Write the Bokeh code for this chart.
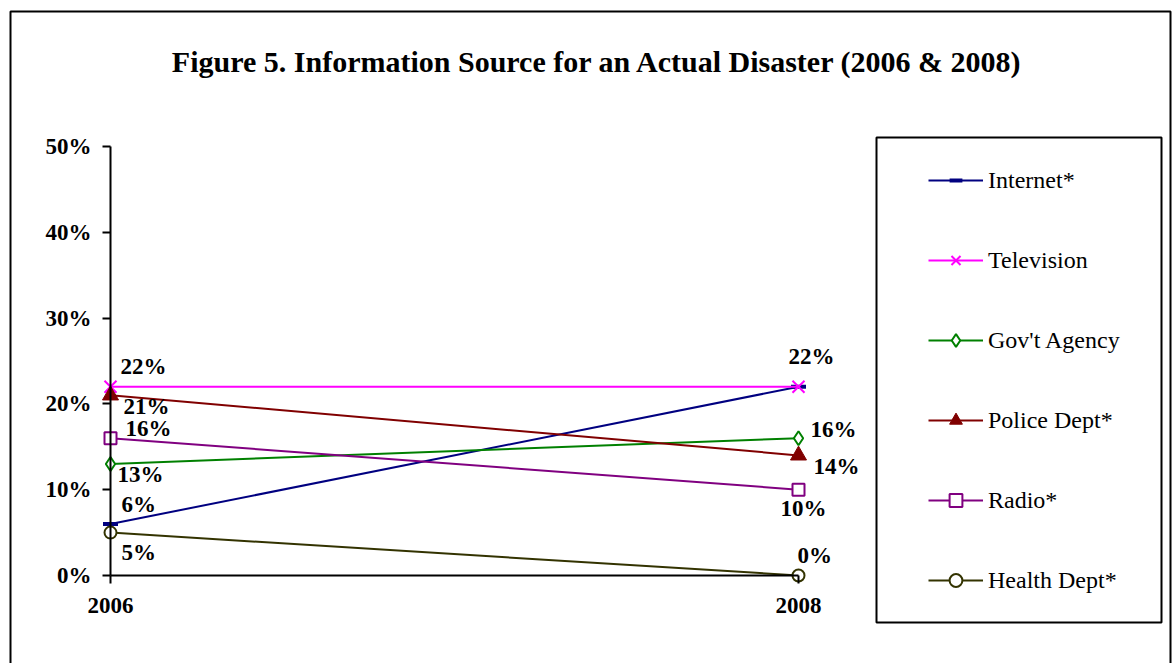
from bokeh.plotting import figure
from bokeh.models import (Range1d, FixedTicker, NumeralTickFormatter, Legend, LegendItem,
                          Label, BoxAnnotation, ColumnDataSource)
from bokeh.embed import file_html
from bokeh.resources import INLINE

# ---- data ----
years = [2006, 2008]
series_names = ["Internet*", "Television", "Gov't Agency", "Police Dept*", "Radio*", "Health Dept*"]
internet = [0.06, 0.22]
television = [0.22, 0.22]
govt_agency = [0.13, 0.16]
police_dept = [0.21, 0.14]
radio = [0.16, 0.10]
health_dept = [0.05, 0.00]
y_ticks = [0.0, 0.1, 0.2, 0.3, 0.4, 0.5]
title_text = "Figure 5. Information Source for an Actual Disaster (2006 & 2008)"

series_values = [internet, television, govt_agency, police_dept, radio, health_dept]

# ---- layout (pixels) ----
W, H = 1172, 663
AX_LEFT, AX_RIGHT = 110, 798      # pixel x of first / last year
AX_TOP, AX_BOTTOM = 146, 575      # pixel y of y-max / y-min
x0, x1 = years[0], years[-1]
y0, y1 = y_ticks[0], y_ticks[-1]
xpp = (x1 - x0) / (AX_RIGHT - AX_LEFT)
ypp = (y1 - y0) / (AX_BOTTOM - AX_TOP)
x_range = Range1d(x0 - AX_LEFT * xpp, x1 + (W - AX_RIGHT) * xpp)
y_range = Range1d(y0 - (H - AX_BOTTOM) * ypp, y1 + AX_TOP * ypp)

# ---- styles ----
colors = ["#000080", "#FF00FF", "#008000", "#800000", "#800080", "#333300"]
markers = ["dash", "x", "diamond", "triangle", "square", "circle"]
marker_sizes = [15, 17, 14, 16, 12, 12]
marker_fill = ["#000080", "#FF00FF", "white", "#800000", "white", "white"]
marker_lw = [4, 2, 2, 1, 2, 2]
# label offsets (dx px, dy px downward) per series per year; None = no label
label_offsets = [
    [(11, -20), (-10, -30)],
    [(10, -20), None],
    [(7, 11), (12, -9)],
    [(13, 11), (15, 11)],
    [(15, -10), (-18, 19)],
    [(11, 20), (-1, -20)],
]

SERIF = "Liberation Serif"

p = figure(width=W, height=H, output_backend="svg", toolbar_location=None,
           x_range=x_range, y_range=y_range,
           min_border_left=0, min_border_right=0, min_border_top=0, min_border_bottom=0,
           title=None)
p.background_fill_color = "white"
p.border_fill_color = "white"
p.outline_line_color = None
p.xgrid.visible = False
p.ygrid.visible = False

for ax in (p.xaxis[0], p.yaxis[0]):
    ax.axis_line_width = 2
    ax.axis_line_color = "black"
    ax.major_tick_line_width = 2
    ax.major_tick_line_color = "black"
    ax.major_tick_out = 8
    ax.major_tick_in = 0
    ax.minor_tick_line_color = None
    ax.major_label_text_font = SERIF
    ax.major_label_text_font_style = "bold"
    ax.major_label_text_font_size = "23px"
    ax.major_label_text_color = "black"

p.xaxis.ticker = FixedTicker(ticks=years)
p.xaxis.bounds = (x0, x1)
p.xaxis.fixed_location = y0
p.xaxis.major_label_standoff = 14
p.yaxis.ticker = FixedTicker(ticks=y_ticks)
p.yaxis.formatter = NumeralTickFormatter(format="0%")
p.yaxis.bounds = (y0, y1)
p.yaxis.fixed_location = x0
p.yaxis.major_label_standoff = 11

items = []
for i, name in enumerate(series_names):
    src = ColumnDataSource(dict(x=years, y=series_values[i]))
    lr = p.line("x", "y", source=src, line_color=colors[i], line_width=2)
    mr = p.scatter("x", "y", source=src, marker=markers[i], size=marker_sizes[i],
                   line_color=colors[i], fill_color=marker_fill[i], line_width=marker_lw[i])
    items.append(LegendItem(label=name, renderers=[lr, mr]))
    for j, yr in enumerate(years):
        off = label_offsets[i][j]
        if off is None:
            continue
        v = series_values[i][j]
        p.add_layout(Label(x=yr, y=v, text=f"{round(v * 100)}%", x_offset=off[0], y_offset=-off[1],
                           text_align="left", text_baseline="middle", text_font=SERIF,
                           text_font_style="bold", text_font_size="23px", text_color="black"))

legend = Legend(items=items, location=(928, H - 596), orientation="vertical",
                padding=10, spacing=48, glyph_width=55, glyph_height=32, label_height=32,
                label_standoff=5, label_text_font=SERIF, label_text_font_size="24px",
                label_text_color="black", label_text_baseline="middle",
                background_fill_alpha=0, border_line_color=None)
p.add_layout(legend)

# legend frame and outer chart border
p.add_layout(BoxAnnotation(left=876, right=1161, top=137, bottom=622,
                           left_units="canvas", right_units="canvas",
                           top_units="canvas", bottom_units="canvas",
                           fill_alpha=0, line_color="black", line_alpha=1, line_width=2))
p.add_layout(BoxAnnotation(left=10, right=1170, top=11, bottom=720,
                           left_units="canvas", right_units="canvas",
                           top_units="canvas", bottom_units="canvas",
                           fill_alpha=0, line_color="black", line_alpha=1, line_width=2))

p.add_layout(Label(x=597, y=61, x_units="canvas", y_units="canvas", text=title_text,
                   text_align="center", text_baseline="middle", text_font=SERIF,
                   text_font_style="bold", text_font_size="30px", text_color="black"))

open("out.html", "w").write(file_html(p, INLINE))
